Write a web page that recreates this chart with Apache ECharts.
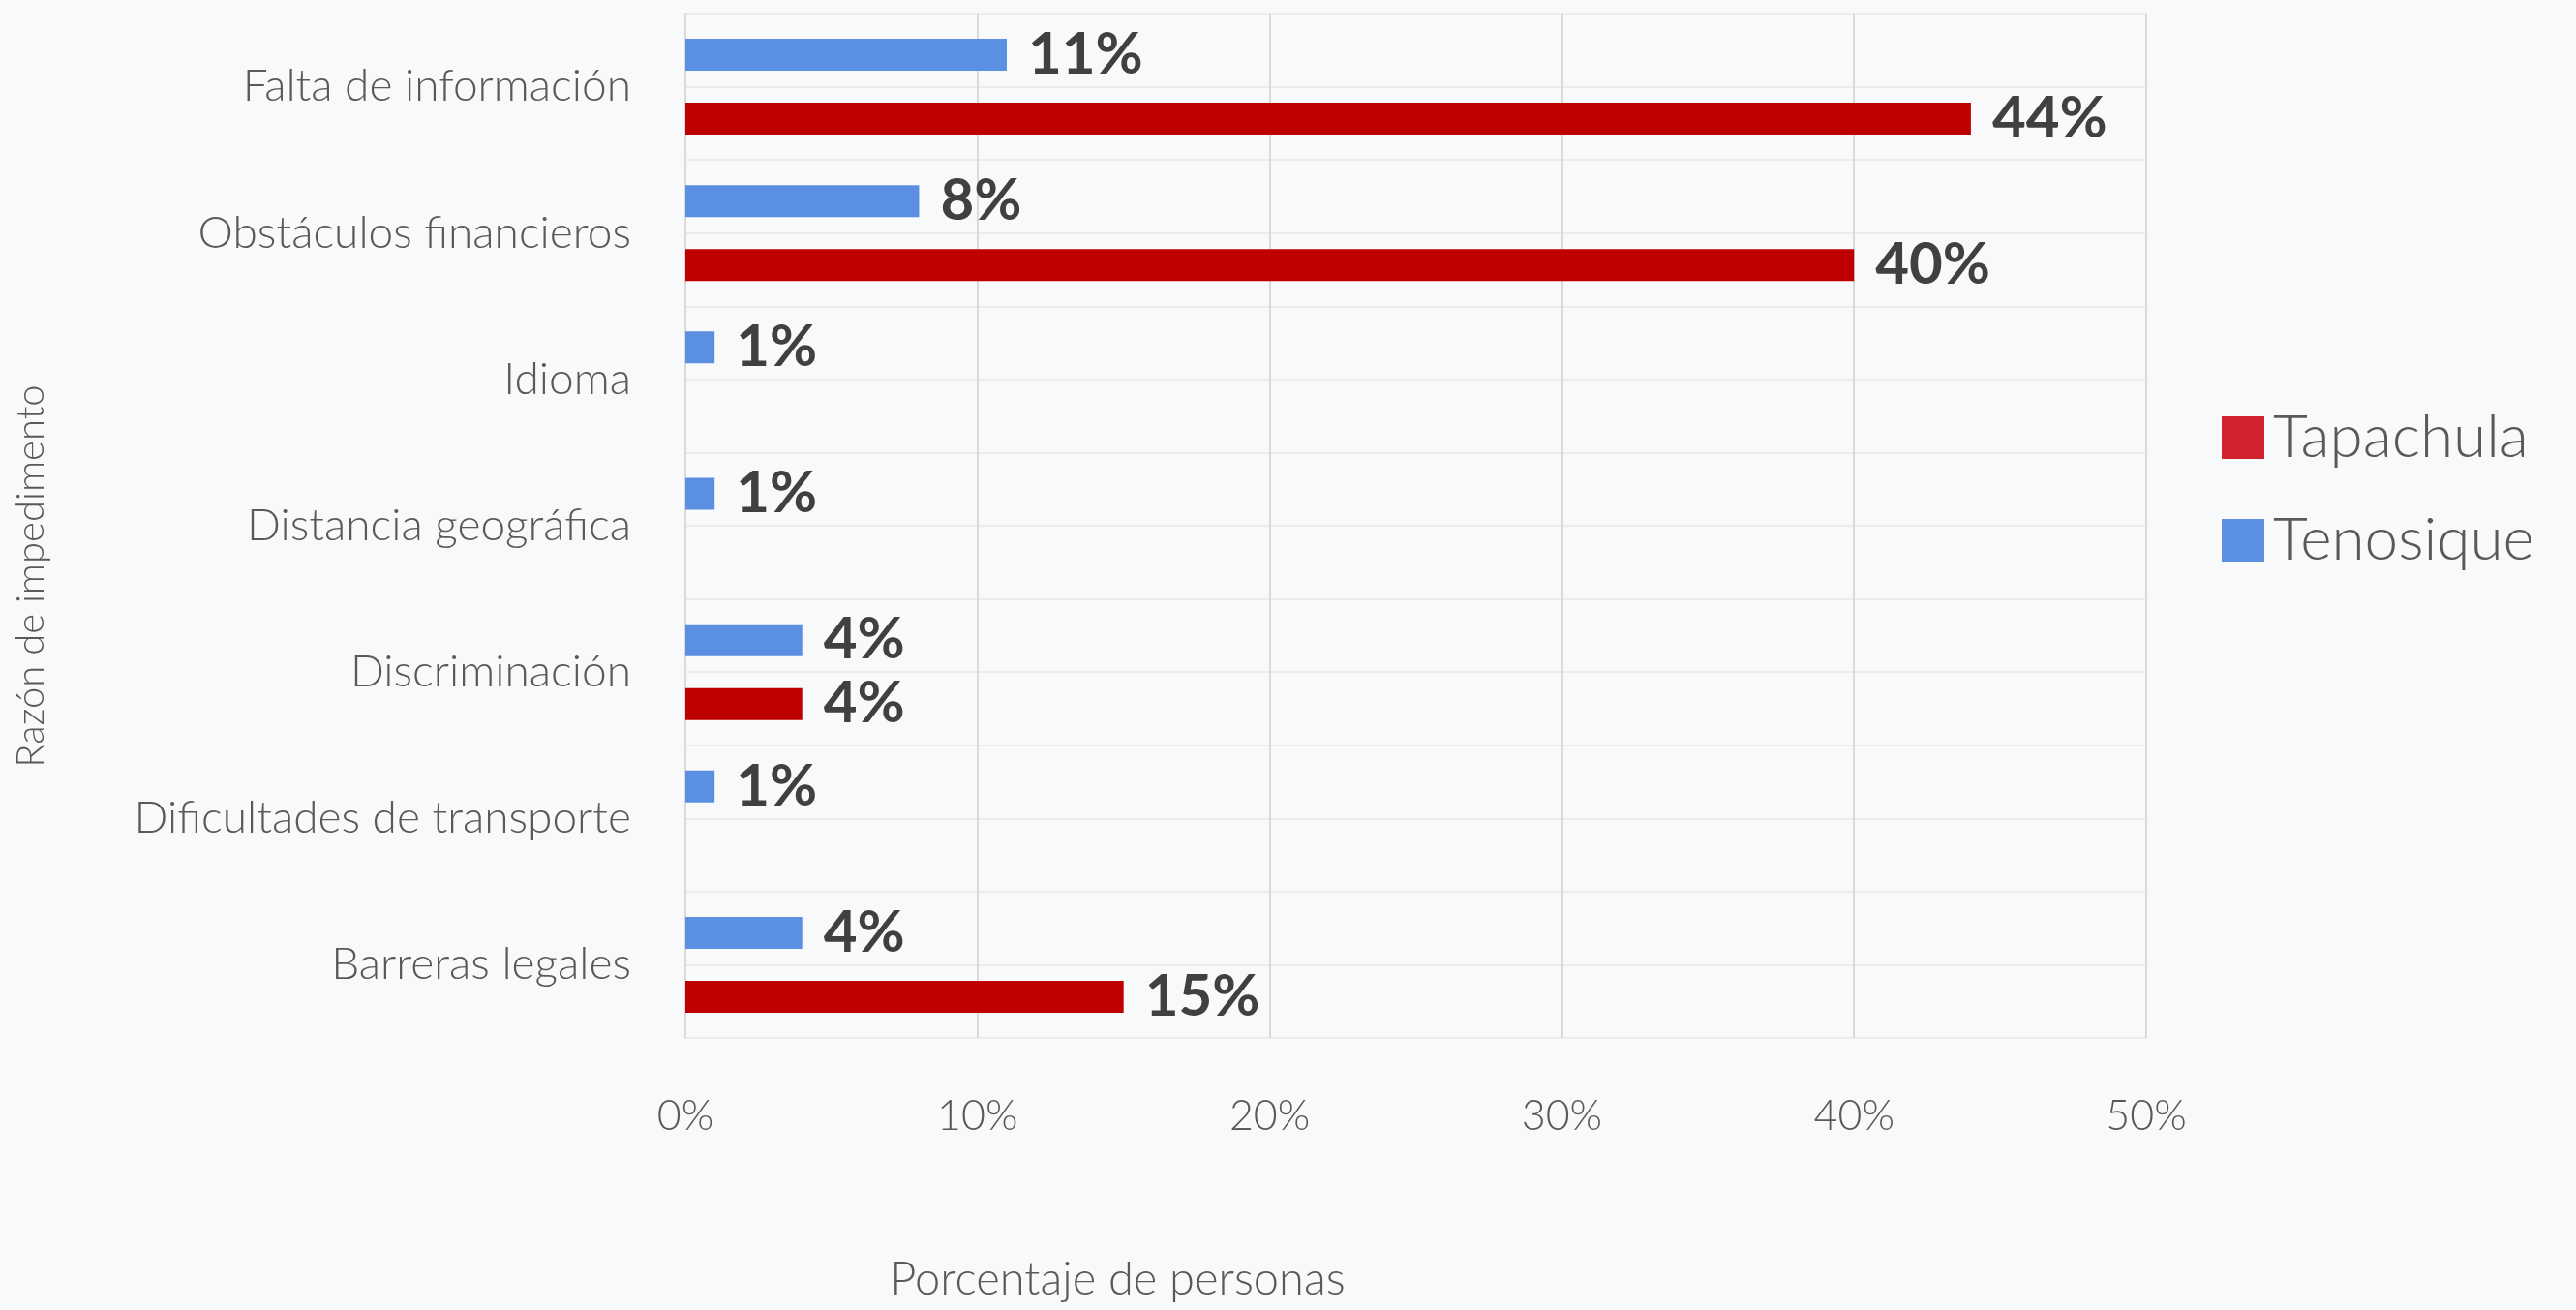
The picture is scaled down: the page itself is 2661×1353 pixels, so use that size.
<!DOCTYPE html>
<html>
<head>
<meta charset="utf-8">
<script src="https://cdn.jsdelivr.net/npm/echarts@6/dist/echarts.min.js"></script>
<style>
  html, body { margin: 0; padding: 0; background: #f8f9fb; }
  #chart { width: 2661px; height: 1353px; }
</style>
</head>
<body>
<div id="chart"></div>
<script>
// Reasons given for not accessing services, by city (percent of people)
const categories = [
  'Falta de información',
  'Obstáculos financieros',
  'Idioma',
  'Distancia geográfica',
  'Discriminación',
  'Dificultades de transporte',
  'Barreras legales'
];
const tenosique = [11, 8, 1, 1, 4, 1, 4];
const tapachula = [44, 40, null, null, 4, null, 15];
const xTicks = [0, 10, 20, 30, 40, 50];

const FONT = 'Lato, "Open Sans", sans-serif';
const TEXT = '#595959';

const chart = echarts.init(document.getElementById('chart'));

const valueLabel = {
  show: true,
  position: 'right',
  distance: 22,
  fontFamily: FONT,
  fontWeight: 'bold',
  fontSize: 60,
  color: '#404040',
  formatter: p => p.value + '%'
};

chart.setOption({
  backgroundColor: '#f8f9fb',
  animation: false,
  grid: { left: 708, right: 444, top: 14, bottom: 281 },
  legend: {
    orient: 'vertical',
    left: 2290,
    top: 416,
    itemWidth: 44,
    itemHeight: 44,
    itemGap: 44,
    icon: 'rect',
    textStyle: { fontFamily: FONT, fontWeight: 300, fontSize: 62, lineHeight: 62, color: TEXT, padding: [0, 0, 0, 4] },
    data: [
      { name: 'Tapachula', itemStyle: { color: '#d2222d' } },
      { name: 'Tenosique', itemStyle: { color: '#5b8fe1' } }
    ]
  },
  xAxis: {
    type: 'value',
    min: xTicks[0],
    max: xTicks[xTicks.length - 1],
    interval: 10,
    name: 'Porcentaje de personas',
    nameLocation: 'middle',
    nameGap: 226,
    nameTextStyle: { fontFamily: FONT, fontWeight: 300, fontSize: 47, color: TEXT, padding: [0, 616, 0, 0] },
    axisLine: { show: false },
    axisTick: { show: false },
    axisLabel: { margin: 60, fontFamily: FONT, fontWeight: 300, fontSize: 43, color: TEXT, formatter: v => v + '%' },
    splitLine: { show: true, lineStyle: { color: '#dadada', width: 2 } }
  },
  yAxis: [
    {
      type: 'category',
      data: categories,
      inverse: true,
      name: 'Razón de impedimento',
      nameLocation: 'middle',
      nameGap: 656,
      nameRotate: 90,
      nameTextStyle: { fontFamily: FONT, fontWeight: 300, fontSize: 40, color: TEXT, padding: [0, 104, 0, 0] },
      axisLine: { show: true, lineStyle: { color: '#dadada', width: 2 } },
      axisTick: { show: false },
      axisLabel: { margin: 56, fontFamily: FONT, fontWeight: 300, fontSize: 46, color: TEXT },
      splitLine: { show: false }
    },
    {
      // half-band ruling across the plot
      type: 'value',
      min: 0,
      max: 14,
      interval: 1,
      position: 'right',
      axisLine: { show: false },
      axisTick: { show: false },
      axisLabel: { show: false },
      splitLine: { show: true, lineStyle: { color: '#ececec', width: 2 } }
    }
  ],
  series: [
    {
      name: 'Tenosique',
      type: 'bar',
      yAxisIndex: 0,
      data: tenosique,
      barWidth: 33,
      barGap: '100%',
      itemStyle: { color: '#5b8fe1' },
      label: valueLabel
    },
    {
      name: 'Tapachula',
      type: 'bar',
      yAxisIndex: 0,
      data: tapachula,
      barWidth: 33,
      barGap: '100%',
      itemStyle: { color: '#bf0000' },
      label: valueLabel
    }
  ]
});
</script>
</body>
</html>
